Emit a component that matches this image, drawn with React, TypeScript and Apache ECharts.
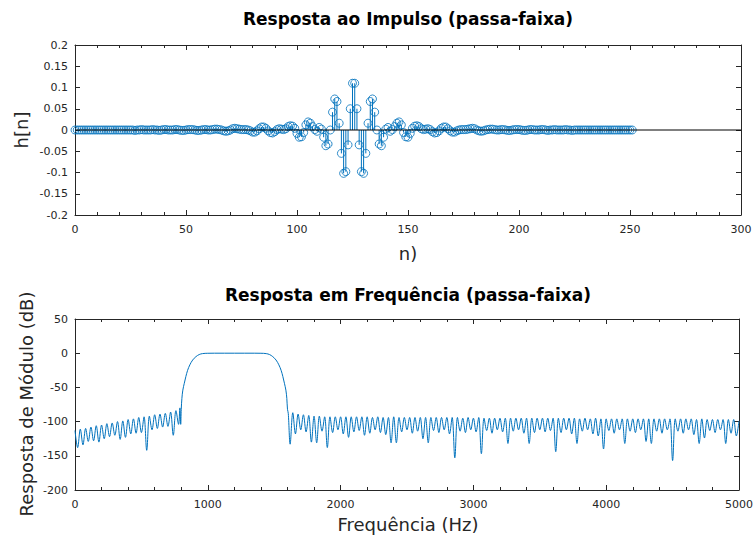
import React, { useEffect, useRef } from "react";
import * as echarts from "echarts";

// ---- Impulse response h[n], n = 0..251 ----
const hLeft = [
  0, 0, 0, 0, 0, 0, 0, 0, 0, 0,
  0, 0, 0, 0, 0, 0, 0, 0, 0, 0,
  0, 0, 0, 0, 0, 0,
  0.000, -0.001, 0.000, 0.000, 0.001, 0.000, 0.000, 0.000, 0.000, 0.001,
  0.000, 0.000, -0.001, 0.000, 0.001, 0.001, 0.000, 0.000, 0.000, 0.001,
  0.001, 0.000, -0.001, -0.001, 0.000, 0.001, 0.001, 0.001, 0.000, -0.001,
  -0.001, 0.000, 0.001, 0.001, 0.000, 0.000, 0.001, 0.002, 0.002, 0.001,
  0.000, -0.002, -0.003, -0.002, 0.000, 0.003, 0.004, 0.003, 0.002, 0.001,
  0.001, 0.001, 0.000, -0.002, -0.005, -0.005, -0.002, 0.003, 0.007, 0.007,
  0.004, -0.002, -0.006, -0.007, -0.004, 0.001, 0.003, 0.002, 0.001, 0.003,
  0.008, 0.010, 0.009, 0.004, -0.008, -0.017, -0.016, -0.006, 0.012, 0.019,
  0.016, 0.008, 0.001, -0.003, 0.006, 0.002, -0.017, -0.037, -0.033, 0.000,
  0.042, 0.073, 0.067, 0.016, -0.055, -0.102, -0.098, -0.035, 0.050, 0.110,
];
const hRight = [
  0.110, 0.050, -0.035, -0.098, -0.102, -0.055, 0.016, 0.067, 0.073, 0.042,
  0.000, -0.033, -0.037, -0.017, 0.002, 0.006, -0.003, 0.001, 0.008, 0.016,
  0.019, 0.012, -0.006, -0.016, -0.017, -0.008, 0.004, 0.009, 0.010, 0.008,
  0.003, 0.001, 0.002, 0.003, 0.001, -0.004, -0.007, -0.006, -0.002, 0.004,
  0.007, 0.007, 0.003, -0.002, -0.005, -0.005, -0.002, 0.000, 0.001, 0.001,
  0.001, 0.002, 0.003, 0.004, 0.003, 0.000, -0.002, -0.003, -0.002, 0.000,
  0.001, 0.002, 0.002, 0.001, 0.000, 0.000, 0.001, 0.001, 0.000, -0.001,
  -0.001, 0.000, 0.001, 0.001, 0.001, 0.000, -0.001, -0.001, 0.000, 0.001,
  0.001, 0.000, 0.000, 0.000, 0.001, 0.001, 0.000, -0.001, 0.000, 0.000,
  0.001, 0.000, 0.000, 0.000, 0.000, 0.001, 0.000, 0.000, -0.001, 0.000,
  0, 0, 0, 0, 0, 0, 0, 0, 0, 0,
  0, 0, 0, 0, 0, 0, 0, 0, 0, 0,
  0, 0, 0, 0, 0, 0,
];
const hValues = [...hLeft, ...hRight];

// ---- Frequency response (dB) ----
// lower stopband: peaks at 0,40,...,760 Hz ; nulls at 20,60,...,780 Hz
const lowPeaks = [
  -113, -111, -110, -108, -106, -105, -103, -102, -100, -99,
  -97, -96, -94, -93, -92, -90, -89, -88, -86, -84,
];
const lowNulls = [
  -138, -134, -129, -128, -130, -125, -122, -120, -126, -123,
  -118, -117, -116, -142, -112, -110, -108, -107, -120, -104,
];
// transition + passband
const passFreqs = [
  790, 796, 800, 805, 812, 823, 835, 848, 865, 886, 911, 935, 960, 1000, 1050,
  1200, 1350, 1400, 1440, 1465, 1489, 1514, 1535, 1552, 1565, 1577, 1588, 1595, 1600, 1606,
];
const passDb = [
  -80, -104, -82, -66, -54, -44, -34, -25, -17, -10, -5, -2, -0.6, -0.1, 0,
  0, 0, -0.1, -0.6, -2, -5, -10, -17, -25, -34, -44, -54, -66, -82, -88,
];
// upper stopband: nulls at 1620,1660,...,4980 Hz ; peaks at 1640,...,5000 Hz
const highNulls = [
  -133, -118, -112, -115, -130, -131, -114, -138, -116, -112,
  -118, -123, -115, -113, -120, -117, -112, -116, -119, -131,
  -131, -115, -112, -117, -114, -125, -131, -113, -116, -112,
  -118, -153, -114, -116, -112, -115, -147, -113, -117, -112,
  -115, -132, -114, -112, -117, -132, -116, -112, -115, -113,
  -144, -116, -112, -118, -132, -114, -112, -118, -121, -140,
  -113, -117, -112, -132, -114, -116, -112, -129, -132, -114,
  -117, -112, -157, -114, -117, -112, -119, -132, -124, -113,
  -116, -112, -132, -117, -121,
];
const highPeaks = [
  -87, -89, -90, -91, -92, -92, -93, -93, -93, -93,
  -93, -93, -93, -93, -93, -94, -93, -94, -94, -93,
  -94, -94, -94, -94, -94, -94, -94, -94, -94, -94,
  -94, -94, -95, -94, -95, -94, -95, -95, -95, -95,
  -95, -95, -95, -95, -95, -95, -95, -95, -95, -95,
  -95, -95, -95, -95, -96, -95, -96, -95, -96, -96,
  -96, -96, -96, -96, -96, -96, -96, -96, -96, -96,
  -96, -96, -96, -96, -96, -96, -97, -96, -97, -97,
  -97, -97, -97, -97, -99,
];

const BLUE = "#0072BD";
const AX = "#262626";
const FONT = "DejaVu Sans";

export default function App() {
  const ref = useRef<HTMLDivElement>(null);
  useEffect(() => {
    if (!ref.current) return;
    const chart = echarts.init(ref.current, undefined, { renderer: "svg" });

    const stems = hValues.map((v, i) => [i, v]);
    const freqData: number[][] = [];
    lowPeaks.forEach((p, i) => {
      freqData.push([i * 40, p]);
      freqData.push([i * 40 + 20, lowNulls[i]]);
    });
    passFreqs.forEach((f, i) => freqData.push([f, passDb[i]]));
    highNulls.forEach((nv, k) => {
      freqData.push([1620 + k * 40, nv]);
      freqData.push([1640 + k * 40, highPeaks[k]]);
    });

    const tickLabel = {
      color: AX, fontSize: 11, fontFamily: FONT,
      formatter: (v: number) => String(Math.round(v * 1000) / 1000),
    };
    const mkX = (grid: number, min: number, max: number, interval: number, top: boolean) => ({
      type: "value", gridIndex: grid, min, max, interval,
      position: top ? "top" : "bottom",
      axisLine: { show: true, onZero: false, lineStyle: { color: AX, width: 1 } },
      axisTick: { show: true, inside: true, length: 5, lineStyle: { color: AX } },
      minorTick: { show: true, splitNumber: 5, length: 3, lineStyle: { color: AX } },
      axisLabel: top ? { show: false } : { ...tickLabel, margin: 9 },
      splitLine: { show: false },
    });
    const mkY = (grid: number, min: number, max: number, interval: number, right: boolean) => ({
      type: "value", gridIndex: grid, min, max, interval,
      position: right ? "right" : "left",
      axisLine: { show: true, onZero: false, lineStyle: { color: AX, width: 1 } },
      axisTick: { show: true, inside: true, length: 5, lineStyle: { color: AX } },
      axisLabel: right ? { show: false } : { ...tickLabel, margin: 7 },
      splitLine: { show: false },
    });

    chart.setOption({
      animation: false,
      backgroundColor: "#ffffff",
      grid: [
        { left: 75, right: 15, top: 45, height: 170 },
        { left: 75, right: 15, top: 319, height: 171 },
      ],
      xAxis: [
        mkX(0, 0, 300, 50, false),
        mkX(0, 0, 300, 50, true),
        mkX(1, 0, 5000, 1000, false),
        mkX(1, 0, 5000, 1000, true),
      ],
      yAxis: [
        mkY(0, -0.2, 0.2, 0.05, false),
        mkY(0, -0.2, 0.2, 0.05, true),
        mkY(1, -200, 50, 50, false),
        mkY(1, -200, 50, 50, true),
      ],
      series: [
        {
          type: "custom",
          xAxisIndex: 0, yAxisIndex: 0,
          data: stems,
          renderItem: (params: any, api: any) => {
            const x = api.value(0);
            const y = api.value(1);
            const p0 = api.coord([x, 0]);
            const p1 = api.coord([x, y]);
            return {
              type: "line",
              shape: { x1: p0[0], y1: p0[1], x2: p1[0], y2: p1[1] },
              style: { stroke: BLUE, lineWidth: 1 },
            };
          },
          z: 2,
        },
        {
          type: "scatter",
          xAxisIndex: 0, yAxisIndex: 0,
          data: stems,
          symbol: "circle",
          symbolSize: 8,
          itemStyle: { color: "rgba(0,0,0,0)", borderColor: BLUE, borderWidth: 1 },
          z: 3,
        },
        {
          type: "line",
          xAxisIndex: 0, yAxisIndex: 0,
          data: [[0, 0], [300, 0]],
          symbol: "none",
          lineStyle: { color: "#000", width: 1 },
          z: 4,
        },
        {
          type: "line",
          xAxisIndex: 2, yAxisIndex: 2,
          data: freqData,
          symbol: "none",
          smooth: 0.35,
          lineStyle: { color: BLUE, width: 1 },
          z: 3,
        },
      ],
      graphic: [
        { type: "text", x: 408, y: 19, style: { text: "Resposta ao Impulso (passa-faixa)", font: `bold 17px ${FONT}`, fill: "#000", align: "center", verticalAlign: "middle" } },
        { type: "text", x: 21, y: 130, rotation: Math.PI / 2, style: { text: "h[n]", font: `18px ${FONT}`, fill: AX, align: "center", verticalAlign: "middle" } },
        { type: "text", x: 408, y: 253, style: { text: "n)", font: `18px ${FONT}`, fill: AX, align: "center", verticalAlign: "middle" } },
        { type: "text", x: 408, y: 295, style: { text: "Resposta em Frequência (passa-faixa)", font: `bold 17px ${FONT}`, fill: "#000", align: "center", verticalAlign: "middle" } },
        { type: "text", x: 26, y: 404, rotation: Math.PI / 2, style: { text: "Resposta de Módulo (dB)", font: `18px ${FONT}`, fill: AX, align: "center", verticalAlign: "middle" } },
        { type: "text", x: 408, y: 524, style: { text: "Frequência (Hz)", font: `18px ${FONT}`, fill: AX, align: "center", verticalAlign: "middle" } },
      ],
    });
    return () => chart.dispose();
  }, []);
  return <div ref={ref} style={{ position: "absolute", left: 0, top: 0, width: 756, height: 539 }} />;
}
